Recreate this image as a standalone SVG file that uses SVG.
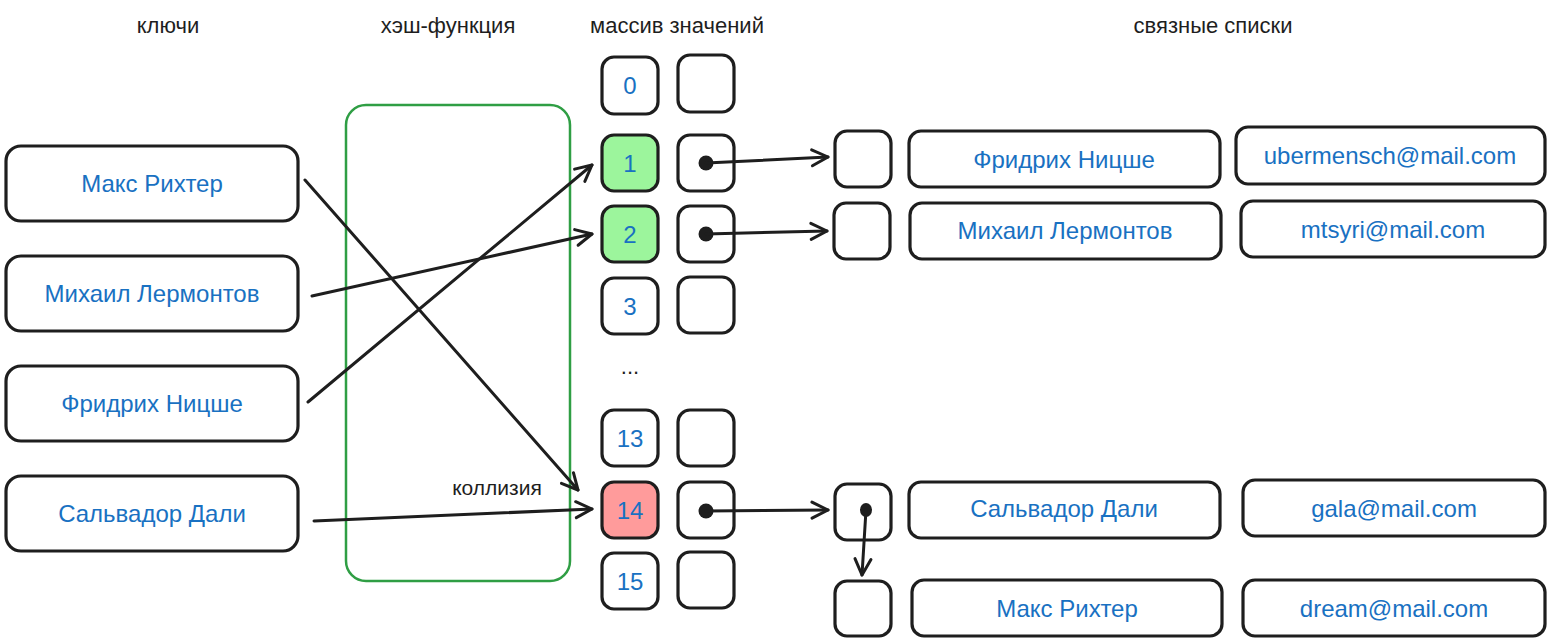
<svg xmlns="http://www.w3.org/2000/svg" width="1560" height="643" viewBox="0 0 1560 643">
<defs>
<style>
.box{fill:#ffffff;stroke:#1e1e1e;stroke-width:3.2}
.green{fill:#9cf59c}
.red{fill:#ff9b9b}
.t{font-family:"Liberation Sans","DejaVu Sans",sans-serif;font-size:24px;fill:#1971c2;text-anchor:middle;dominant-baseline:central}
.h{font-family:"Liberation Sans","DejaVu Sans",sans-serif;font-size:22px;fill:#1e1e1e;text-anchor:middle;dominant-baseline:central}
.c{fill:none;stroke:#1e1e1e;stroke-width:3;stroke-linecap:round}
.dot{fill:#1e1e1e}
</style>
<marker id="ah" markerWidth="24" markerHeight="24" refX="20" refY="12" orient="auto" markerUnits="userSpaceOnUse">
<path d="M4,4 L20,12 L4,20" fill="none" stroke="#1e1e1e" stroke-width="3" stroke-linecap="round" stroke-linejoin="round"/>
</marker>
</defs>
<rect width="1560" height="643" fill="#ffffff"/>

<g id="headers">
<text class="h" x="168" y="25">ключи</text>
<text class="h" x="448" y="25">хэш-функция</text>
<text class="h" x="677" y="25">массив значений</text>
<text class="h" x="1213" y="25">связные списки</text>
</g>

<g id="hash-function">
<rect x="346" y="105" width="224" height="476" rx="20" fill="none" stroke="#2f9e44" stroke-width="2.5"/>
</g>

<g id="key-maks"><rect class="box" x="6" y="146" width="292" height="75" rx="15"/><text class="t" x="152" y="183">Макс Рихтер</text></g>
<g id="key-mikhail"><rect class="box" x="6" y="256" width="292" height="75" rx="15"/><text class="t" x="152" y="293">Михаил Лермонтов</text></g>
<g id="key-fridrikh"><rect class="box" x="6" y="366" width="292" height="75" rx="15"/><text class="t" x="152" y="403">Фридрих Ницше</text></g>
<g id="key-salvador"><rect class="box" x="6" y="476" width="292" height="75" rx="15"/><text class="t" x="152" y="513">Сальвадор Дали</text></g>

<g id="idx-0"><rect class="box" x="602" y="57" width="56" height="57" rx="12"/><text class="t" x="630" y="85">0</text></g>
<g id="idx-1"><rect class="box green" x="602" y="135" width="56" height="56" rx="12"/><text class="t" x="630" y="163">1</text></g>
<g id="idx-2"><rect class="box green" x="602" y="206" width="56" height="56" rx="12"/><text class="t" x="630" y="234">2</text></g>
<g id="idx-3"><rect class="box" x="602" y="278" width="56" height="56" rx="12"/><text class="t" x="630" y="306">3</text></g>
<g id="idx-dots"><text class="h" x="630" y="366">...</text></g>
<g id="idx-13"><rect class="box" x="602" y="410" width="56" height="56" rx="12"/><text class="t" x="630" y="438">13</text></g>
<g id="idx-14"><rect class="box red" x="602" y="482" width="56" height="56" rx="12"/><text class="t" x="630" y="510">14</text></g>
<g id="idx-15"><rect class="box" x="602" y="553" width="56" height="56" rx="12"/><text class="t" x="630" y="581">15</text></g>

<g id="val-0"><rect class="box" x="678" y="55" width="56" height="57" rx="12"/></g>
<g id="val-1"><rect class="box" x="678" y="135" width="56" height="56" rx="12"/><circle class="dot" cx="706" cy="163" r="7.5"/></g>
<g id="val-2"><rect class="box" x="678" y="206" width="56" height="56" rx="12"/><circle class="dot" cx="706" cy="234" r="7.5"/></g>
<g id="val-3"><rect class="box" x="678" y="277" width="56" height="56" rx="12"/></g>
<g id="val-13"><rect class="box" x="678" y="410" width="56" height="56" rx="12"/></g>
<g id="val-14"><rect class="box" x="678" y="482" width="56" height="56" rx="12"/><circle class="dot" cx="706" cy="511" r="7.5"/></g>
<g id="val-15"><rect class="box" x="678" y="552" width="56" height="56" rx="12"/></g>

<g id="list-fridrikh">
<rect class="box" x="835" y="131" width="56" height="56" rx="12"/>
<rect class="box" x="909" y="131" width="311" height="56" rx="12"/><text class="t" x="1064" y="159">Фридрих Ницше</text>
<rect class="box" x="1236" y="127" width="309" height="57" rx="12"/><text class="t" x="1390" y="155">ubermensch@mail.com</text>
</g>
<g id="list-mikhail">
<rect class="box" x="834" y="203" width="56" height="56" rx="12"/>
<rect class="box" x="910" y="203" width="311" height="56" rx="12"/><text class="t" x="1065" y="230">Михаил Лермонтов</text>
<rect class="box" x="1241" y="201" width="304" height="56" rx="12"/><text class="t" x="1393" y="229">mtsyri@mail.com</text>
</g>
<g id="list-salvador">
<rect class="box" x="835" y="484" width="56" height="56" rx="12"/><ellipse class="dot" cx="866" cy="510" rx="6" ry="7"/>
<rect class="box" x="909" y="482" width="311" height="56" rx="12"/><text class="t" x="1064" y="508">Сальвадор Дали</text>
<rect class="box" x="1243" y="480" width="302" height="56" rx="12"/><text class="t" x="1394" y="508">gala@mail.com</text>
</g>
<g id="list-maks">
<rect class="box" x="835" y="581" width="56" height="55" rx="12"/>
<rect class="box" x="912" y="580" width="310" height="56" rx="12"/><text class="t" x="1067" y="608">Макс Рихтер</text>
<rect class="box" x="1243" y="580" width="302" height="56" rx="12"/><text class="t" x="1394" y="608">dream@mail.com</text>
</g>

<g id="collision-label"><text class="h" x="497" y="487" style="font-size:21px">коллизия</text></g>

<g id="connectors">
<line class="c" x1="305" y1="180" x2="578" y2="490" marker-end="url(#ah)"/>
<line class="c" x1="312" y1="296" x2="592" y2="234" marker-end="url(#ah)"/>
<line class="c" x1="308" y1="402" x2="592" y2="165" marker-end="url(#ah)"/>
<line class="c" x1="314" y1="521" x2="592" y2="509" marker-end="url(#ah)"/>
<line class="c" x1="706" y1="163" x2="828" y2="157" marker-end="url(#ah)"/>
<line class="c" x1="706" y1="234" x2="827" y2="231" marker-end="url(#ah)"/>
<line class="c" x1="706" y1="511" x2="828" y2="510" marker-end="url(#ah)"/>
<line class="c" x1="866" y1="510" x2="862" y2="575" marker-end="url(#ah)"/>
</g>
</svg>
